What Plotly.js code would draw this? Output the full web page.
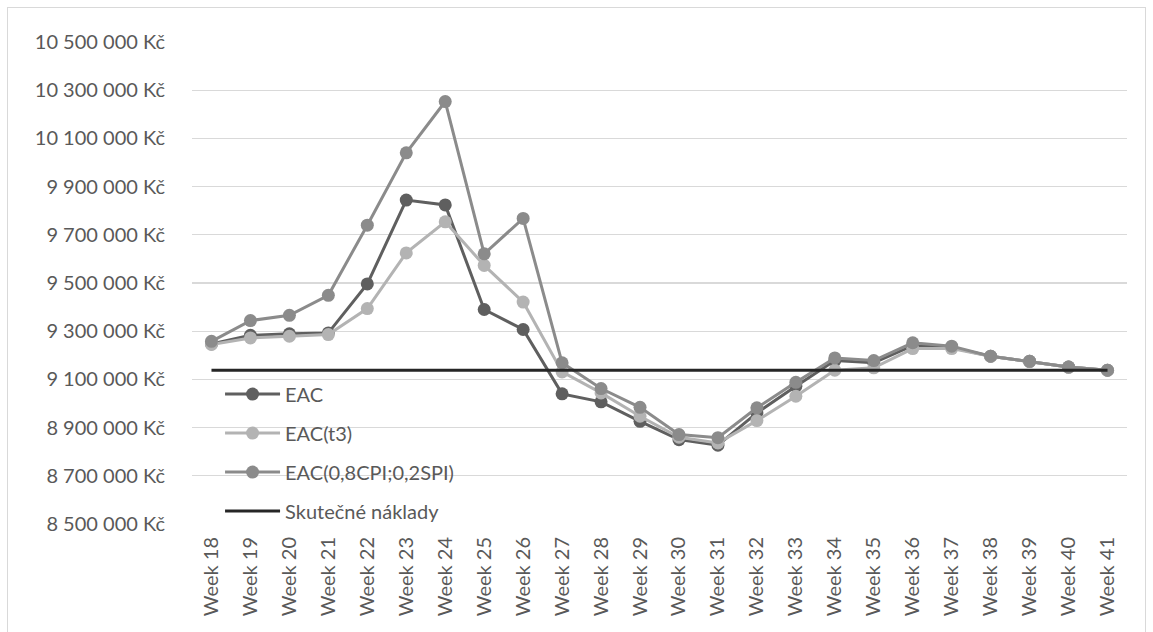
<!DOCTYPE html>
<html>
<head>
<meta charset="utf-8">
<script src="https://cdn.plot.ly/plotly-3.0.1.min.js"></script>
<style>
html,body{margin:0;padding:0;background:#fff;}
#wrap{position:relative;width:1153px;height:632px;overflow:hidden;}
#chart{position:absolute;left:0;top:0;width:1153px;height:632px;}
#frame{position:absolute;left:7px;top:7px;width:1137px;height:640px;border:1px solid #d9d9d9;pointer-events:none;}
</style>
</head>
<body>
<div id="wrap"><div id="chart"></div><div id="frame"></div></div>
<script>
const weeks = ["Week 18","Week 19","Week 20","Week 21","Week 22","Week 23","Week 24","Week 25","Week 26","Week 27","Week 28","Week 29","Week 30","Week 31","Week 32","Week 33","Week 34","Week 35","Week 36","Week 37","Week 38","Week 39","Week 40","Week 41"];
const eac = [9247000, 9283000, 9289000, 9293000, 9496000, 9844000, 9824000, 9390000, 9307000, 9040000, 9007000, 8926000, 8850000, 8827000, 8961000, 9072000, 9178000, 9169000, 9240000, 9232000, 9196000, 9175000, 9151000, 9138000];
const eacT3 = [9245000, 9272000, 9279000, 9286000, 9394000, 9625000, 9754000, 9573000, 9421000, 9131000, 9044000, 8947000, 8860000, 8836000, 8929000, 9030000, 9138000, 9148000, 9228000, 9228000, 9196000, 9175000, 9151000, 9138000];
const eacMix = [9258000, 9344000, 9366000, 9449000, 9740000, 10040000, 10253000, 9621000, 9768000, 9169000, 9062000, 8984000, 8871000, 8858000, 8982000, 9088000, 9189000, 9178000, 9252000, 9238000, 9196000, 9175000, 9151000, 9138000];
const actual = [9138000, 9138000, 9138000, 9138000, 9138000, 9138000, 9138000, 9138000, 9138000, 9138000, 9138000, 9138000, 9138000, 9138000, 9138000, 9138000, 9138000, 9138000, 9138000, 9138000, 9138000, 9138000, 9138000, 9138000];
const seriesNames = ["EAC", "EAC(t3)", "EAC(0,8CPI;0,2SPI)", "Skutečné náklady"];

const FONT = "Lato, 'Open Sans', sans-serif";
const TXT = "#595959";

function lineTrace(y, name, color, group, markers) {
  return {
    type: "scatter",
    mode: markers ? "lines+markers" : "lines",
    x: weeks, y: y, name: name,
    legendgroup: group,
    line: {color: color, width: 3},
    marker: {color: color, size: 13, line: {width: 0}},
    hoverinfo: "x+y+name"
  };
}

const data = [
  lineTrace(eac, seriesNames[0], "#5f5f5f", "g1", true),
  lineTrace(eacT3, seriesNames[1], "#b3b3b3", "g2", true),
  lineTrace(eacMix, seriesNames[2], "#8b8b8b", "g3", true),
  lineTrace(actual, seriesNames[3], "#262626", "g4", false)
];

const layout = {
  width: 1153, height: 632,
  margin: {l: 192, r: 26, t: 42, b: 108},
  paper_bgcolor: "#ffffff", plot_bgcolor: "#ffffff",
  separators: ", ",
  font: {family: FONT, size: 20, color: TXT},
  showlegend: true,
  legend: {
    x: 0.03, y: 0.31, xanchor: "left", yanchor: "top",
    bgcolor: "rgba(0,0,0,0)",
    font: {family: FONT, size: 20, color: TXT},
    tracegroupgap: 10,
    itemwidth: 55,
    traceorder: "grouped"
  },
  xaxis: {
    type: "category",
    range: [-0.5, 23.5],
    tickangle: -90,
    showgrid: false,
    zeroline: false,
    showline: false,
    ticks: "",
    ticklabelstandoff: 8,
    tickfont: {family: FONT, size: 20, color: TXT},
    fixedrange: true
  },
  yaxis: {
    range: [8500000, 10500000],
    tick0: 8500000, dtick: 200000,
    tickformat: ",.0f",
    ticksuffix: " Kč",
    showgrid: true, gridcolor: "#d9d9d9", gridwidth: 1.3,
    zeroline: false, showline: false,
    ticks: "",
    ticklabelstandoff: 26,
    tickfont: {family: FONT, size: 20, color: TXT},
    fixedrange: true
  }
};

Plotly.newPlot("chart", data, layout, {displayModeBar: false, staticPlot: true});
</script>
</body>
</html>
